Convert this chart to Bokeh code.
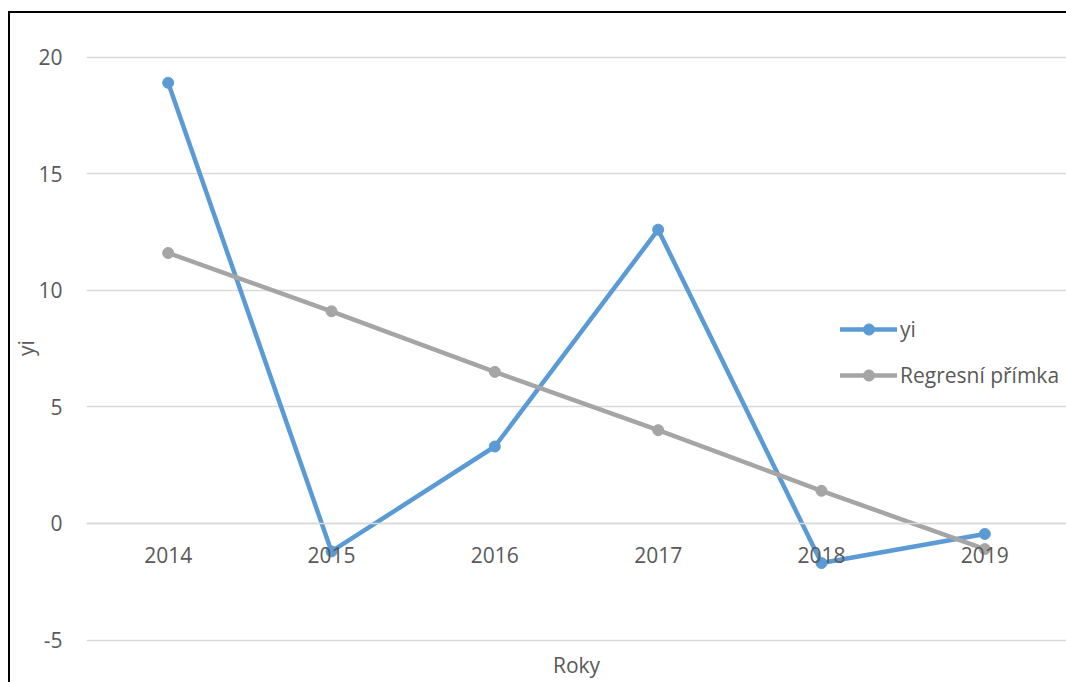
from bokeh.plotting import figure
from bokeh.models import (CategoricalAxis, FactorRange, Range1d, FixedTicker,
                          Legend, LegendItem, ColumnDataSource)
from bokeh.embed import file_html
from bokeh.resources import INLINE

# Values per year
years = ["2014", "2015", "2016", "2017", "2018", "2019"]
yi = [18.9, -1.2, 3.3, 12.6, -1.7, -0.45]
regression = [11.6, 9.1, 6.5, 4.0, 1.4, -1.1]
y_ticks = [-5, 0, 5, 10, 15, 20]
y_tick_labels = {-5: "-5", 0: "0", 5: "5", 10: "10", 15: "15", 20: "20"}

FONT = "Open Sans"
FS = "21px"
TEXT = "#595959"
GRID = "#D9D9D9"
BLUE = "#5B9BD5"
GRAY = "#A5A5A5"

src = ColumnDataSource(dict(year=years, yi=yi, reg=regression))

p = figure(width=1066, height=682,
           x_range=FactorRange(*years), y_range=Range1d(-5.45, 20.5),
           output_backend="svg", toolbar_location=None,
           x_axis_location=None,
           min_border_left=86, min_border_right=0,
           min_border_top=45, min_border_bottom=32)
# white page with the chart frame's black top and left edges
p.styles = {"position": "fixed", "left": "0px", "top": "0px",
            "background-color": "white",
            "box-shadow": "inset 8px 11px 0 0 white, inset 10px 13px 0 0 #000"}
p.outline_line_color = None
p.background_fill_color = "white"
p.border_fill_alpha = 0

# horizontal gridlines only
p.xgrid.visible = False
p.ygrid.ticker = FixedTicker(ticks=y_ticks)
p.ygrid.grid_line_color = GRID
p.ygrid.grid_line_width = 1.5

# value axis
ya = p.yaxis[0]
ya.ticker = FixedTicker(ticks=y_ticks)
ya.major_label_overrides = y_tick_labels
ya.axis_line_color = None
ya.major_tick_line_color = None
ya.minor_tick_line_color = None
ya.major_tick_out = 0
ya.major_label_standoff = 24
ya.major_label_text_font = FONT
ya.major_label_text_font_size = FS
ya.major_label_text_color = TEXT
ya.axis_label = "yi"
ya.axis_label_text_font = FONT
ya.axis_label_text_font_size = FS
ya.axis_label_text_font_style = "normal"
ya.axis_label_text_color = TEXT
ya.axis_label_standoff = -5

# category axis crossing the value axis at zero
cat_axis = CategoricalAxis(fixed_location=0)
cat_axis.axis_line_color = GRID
cat_axis.axis_line_width = 1.5
cat_axis.major_tick_line_color = None
cat_axis.minor_tick_line_color = None
cat_axis.major_tick_out = 0
cat_axis.major_label_standoff = 24
cat_axis.major_label_text_font = FONT
cat_axis.major_label_text_font_size = FS
cat_axis.major_label_text_color = TEXT
p.add_layout(cat_axis, "below")

# title axis at the bottom edge of the plot area
title_axis = CategoricalAxis()
title_axis.axis_line_color = None
title_axis.major_tick_line_color = None
title_axis.minor_tick_line_color = None
title_axis.major_tick_out = 0
title_axis.major_label_standoff = 0
title_axis.major_label_text_font_size = "0px"
title_axis.major_label_text_alpha = 0
title_axis.axis_label = "Roky"
title_axis.axis_label_text_font = FONT
title_axis.axis_label_text_font_size = FS
title_axis.axis_label_text_font_style = "normal"
title_axis.axis_label_text_color = TEXT
title_axis.axis_label_standoff = 0
p.add_layout(title_axis, "below")

# series
l1 = p.line("year", "yi", source=src, line_color=BLUE, line_width=4.5,
            line_join="round", line_cap="round")
m1 = p.scatter("year", "yi", source=src, marker="circle", size=11,
               fill_color=BLUE, line_color=BLUE)
l2 = p.line("year", "reg", source=src, line_color=GRAY, line_width=4.5,
            line_join="round", line_cap="round")
m2 = p.scatter("year", "reg", source=src, marker="circle", size=11,
               fill_color=GRAY, line_color=GRAY)

legend = Legend(items=[LegendItem(label="yi", renderers=[l1, m1]),
                       LegendItem(label="Regresní přímka", renderers=[l2, m2])],
                location=(754, 261))
legend.border_line_color = None
legend.background_fill_alpha = 0
legend.glyph_width = 57
legend.glyph_height = 28
legend.label_standoff = 3
legend.spacing = 18
legend.padding = 0
legend.margin = 0
legend.label_text_font = FONT
legend.label_text_font_size = FS
legend.label_text_color = TEXT
p.add_layout(legend, "center")

open("out.html", "w").write(file_html(p, INLINE))
